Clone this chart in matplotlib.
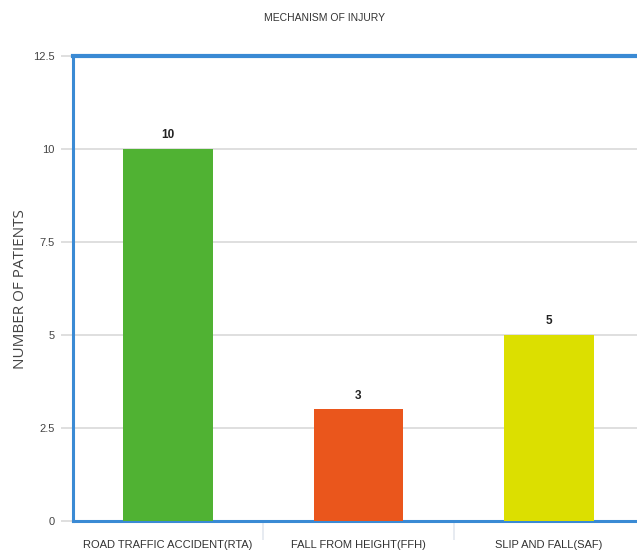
import matplotlib
matplotlib.use("Agg")
import matplotlib.pyplot as plt
from matplotlib.ticker import FixedLocator

plt.rcParams['font.family'] = ['Liberation Sans Narrow', 'Liberation Sans', 'DejaVu Sans']

categories = ["ROAD TRAFFIC ACCIDENT(RTA)", "FALL FROM HEIGHT(FFH)", "SLIP AND FALL(SAF)"]
patients = [10, 3, 5]
bar_colors = ["#50b233", "#ea561c", "#dcdf00"]
y_ticks = [0, 2.5, 5, 7.5, 10, 12.5]
y_tick_labels = ["0", "2.5", "5", "7.5", "10", "12.5"]

W, H = 637, 556
fig = plt.figure(figsize=(W / 100, H / 100), dpi=100)
ax_left, ax_right, ax_top, ax_bottom = 73, 644, 56, 521
ax = fig.add_axes([ax_left / W, 1 - ax_bottom / H, (ax_right - ax_left) / W,
                   (ax_bottom - ax_top) / H])

x = list(range(len(categories)))
ax.bar(x, patients, width=0.47, color=bar_colors, zorder=3)
for xi, v in zip(x, patients):
    ax.annotate(str(v), (xi, v), xytext=(0, 5.5), textcoords="offset points",
                ha="center", va="bottom", fontsize=8.5, fontweight="bold", color="#222222")

ax.set_xlim(-0.5, len(categories) - 0.5)
ax.set_ylim(0, 12.5)
ax.set_yticks(y_ticks)
ax.set_yticklabels(y_tick_labels)
ax.yaxis.grid(True, color="#d9d9d9", linewidth=1.2, zorder=0)
ax.set_axisbelow(True)

ax.set_xticks(x)
ax.set_xticklabels(categories)
ax.tick_params(axis="x", length=0, pad=14, labelsize=8, labelcolor="#333333")
ax.xaxis.set_minor_locator(FixedLocator([0.5, 1.5]))
ax.tick_params(axis="x", which="minor", length=14, color="#e3e8ef", width=1.2)
ax.tick_params(axis="y", length=9, color="#d9d9d9", width=1.2, pad=4,
               labelsize=8, labelcolor="#444444")

for side, lw in [("top", 3), ("left", 2.2), ("bottom", 2.2), ("right", 3)]:
    ax.spines[side].set_color("#3a8ad4")
    ax.spines[side].set_linewidth(lw)

# axis title drawn as free text so its centre sits exactly left of the tick labels
fig.text(21 / W, 1 - 289 / H, "NUMBER OF PATIENTS", rotation=90, ha="center", va="center",
         fontsize=11, color="#444444", family=['Open Sans', 'DejaVu Sans'])
fig.text(325 / W, 1 - 18 / H, "MECHANISM OF INJURY", ha="center", va="center",
         fontsize=7.5, color="#333333")

fig.savefig("out.png", dpi=100)
